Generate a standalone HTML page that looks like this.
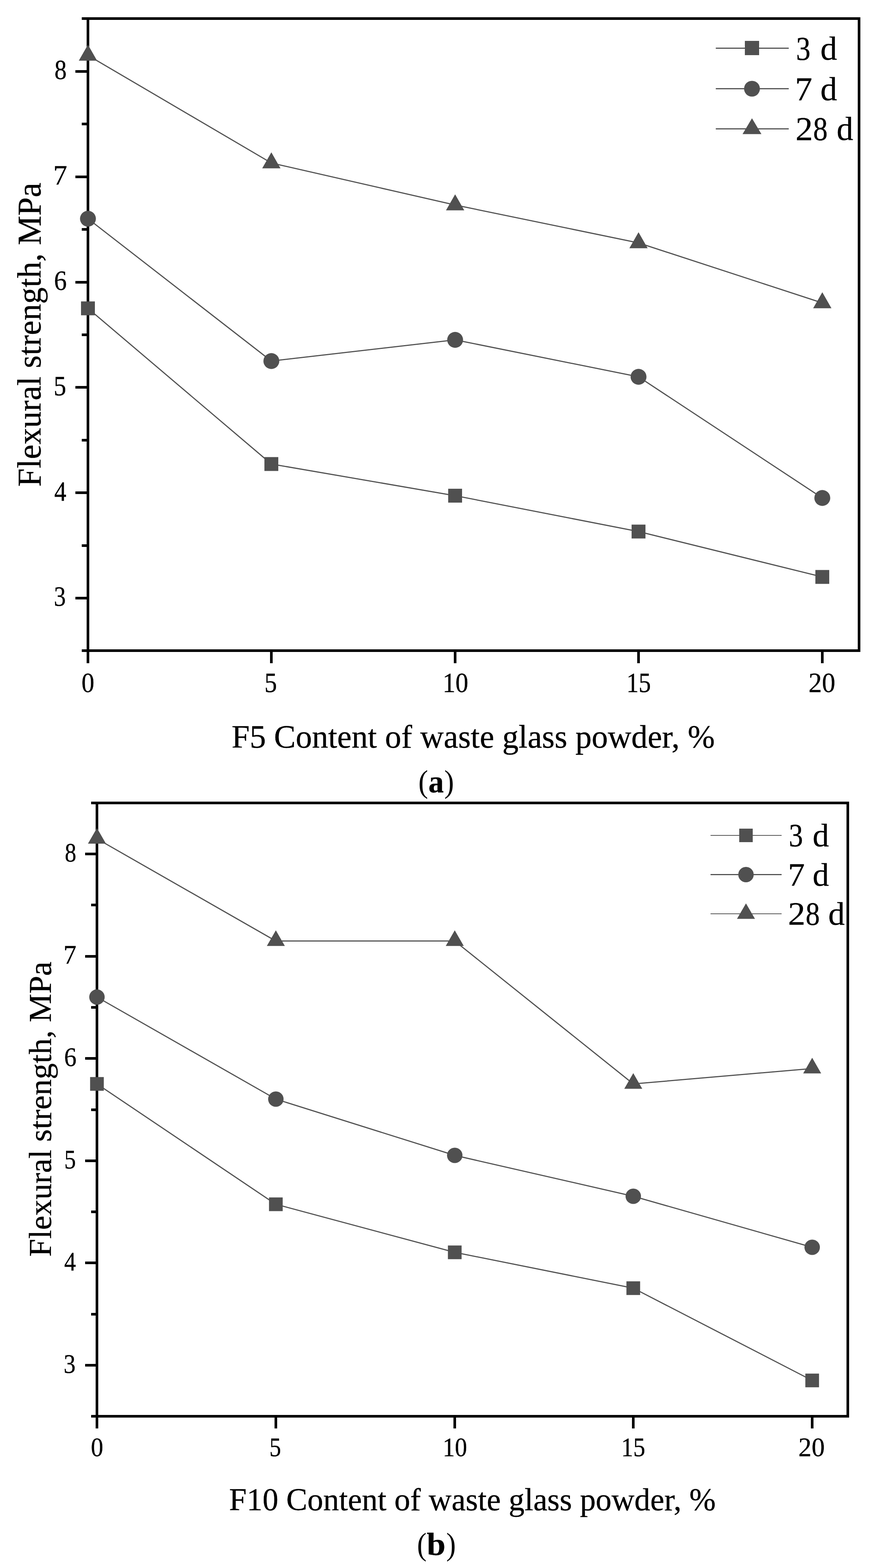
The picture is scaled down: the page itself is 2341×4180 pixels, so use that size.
<!DOCTYPE html>
<html><head><meta charset="utf-8"><title>Flexural strength vs waste glass powder content</title>
<style>html,body{margin:0;padding:0;background:#fff;}svg{display:block;}text{stroke:#000;stroke-width:0.45px;}.thin{stroke:none;}</style></head>
<body><svg width="2341" height="4180" viewBox="0 0 2341 4180" font-family="'Liberation Serif', 'Times New Roman', serif" fill="#000">
<rect width="2341" height="4180" fill="#fff"/>
<rect x="234.5" y="49.5" width="2056.0" height="1685.0" fill="none" stroke="#000" stroke-width="7" stroke-linejoin="miter"/>
<rect x="201" y="1591" width="30.00" height="7" fill="#000"/>
<rect x="201" y="1310" width="30.00" height="7" fill="#000"/>
<rect x="201" y="1029" width="30.00" height="7" fill="#000"/>
<rect x="201" y="749" width="30.00" height="7" fill="#000"/>
<rect x="201" y="468" width="30.00" height="7" fill="#000"/>
<rect x="201" y="187" width="30.00" height="7" fill="#000"/>
<rect x="218" y="1731.0" width="13.00" height="7" fill="#000"/>
<rect x="218" y="1451" width="13.00" height="7" fill="#000"/>
<rect x="218" y="1170" width="13.00" height="7" fill="#000"/>
<rect x="218" y="889" width="13.00" height="7" fill="#000"/>
<rect x="218" y="608" width="13.00" height="7" fill="#000"/>
<rect x="218" y="327" width="13.00" height="7" fill="#000"/>
<rect x="218" y="46.0" width="13.00" height="7" fill="#000"/>
<rect x="231.00" y="1738.00" width="7" height="30.00" fill="#000"/>
<rect x="720.00" y="1738.00" width="7" height="30.00" fill="#000"/>
<rect x="1210.00" y="1738.00" width="7" height="30.00" fill="#000"/>
<rect x="1699.00" y="1738.00" width="7" height="30.00" fill="#000"/>
<rect x="2189.00" y="1738.00" width="7" height="30.00" fill="#000"/>
<text transform="translate(143.87,1615.30) scale(0.8536,1)" font-size="74.3">3</text>
<text transform="translate(144.74,1334.50) scale(0.8657,1)" font-size="74.3">4</text>
<text transform="translate(143.11,1053.70) scale(0.9021,1)" font-size="74.3">5</text>
<text transform="translate(144.07,772.90) scale(0.9167,1)" font-size="74.3">6</text>
<text transform="translate(141.89,492.10) scale(1.0029,1)" font-size="74.3">7</text>
<text transform="translate(145.23,211.30) scale(0.8733,1)" font-size="74.3">8</text>
<text transform="translate(217.29,1845.30) scale(0.9241,1)" font-size="74.3">0</text>
<text transform="translate(705.11,1845.30) scale(0.9021,1)" font-size="74.3">5</text>
<text transform="translate(1179.96,1845.30) scale(0.9255,1)" font-size="74.3">10</text>
<text transform="translate(1670.15,1845.30) scale(0.8803,1)" font-size="74.3">15</text>
<text transform="translate(2155.66,1845.30) scale(0.9618,1)" font-size="74.3">20</text>
<polyline points="234.50,822.00 723.50,1237.00 1213.50,1321.40 1702.50,1417.00 2192.50,1538.00" fill="none" stroke="#505050" stroke-width="3" stroke-linejoin="round"/>
<polyline points="234.50,583.00 723.50,962.50 1213.50,906.00 1702.50,1004.50 2192.50,1327.50" fill="none" stroke="#505050" stroke-width="3" stroke-linejoin="round"/>
<polyline points="234.50,147.50 723.50,434.50 1213.50,546.50 1702.50,647.50 2192.50,807.50" fill="none" stroke="#505050" stroke-width="3" stroke-linejoin="round"/>
<rect x="216.00" y="803.50" width="37" height="37" fill="#505050"/>
<rect x="705.00" y="1218.50" width="37" height="37" fill="#505050"/>
<rect x="1195.00" y="1302.90" width="37" height="37" fill="#505050"/>
<rect x="1684.00" y="1398.50" width="37" height="37" fill="#505050"/>
<rect x="2174.00" y="1519.50" width="37" height="37" fill="#505050"/>
<circle cx="234.50" cy="583.00" r="21.2" fill="#505050"/>
<circle cx="723.50" cy="962.50" r="21.2" fill="#505050"/>
<circle cx="1213.50" cy="906.00" r="21.2" fill="#505050"/>
<circle cx="1702.50" cy="1004.50" r="21.2" fill="#505050"/>
<circle cx="2192.50" cy="1327.50" r="21.2" fill="#505050"/>
<polygon points="234.50,119.10 258.90,161.70 210.10,161.70" fill="#505050"/>
<polygon points="723.50,406.10 747.90,448.70 699.10,448.70" fill="#505050"/>
<polygon points="1213.50,518.10 1237.90,560.70 1189.10,560.70" fill="#505050"/>
<polygon points="1702.50,619.10 1726.90,661.70 1678.10,661.70" fill="#505050"/>
<polygon points="2192.50,779.10 2216.90,821.70 2168.10,821.70" fill="#505050"/>
<line x1="1908.5" y1="128.5" x2="2103" y2="128.5" stroke="#505050" stroke-width="3"/>
<rect x="1986.00" y="109.00" width="38" height="38" fill="#505050"/>
<text y="158.60" font-size="89"><tspan x="2122.42" textLength="38.49" lengthAdjust="spacingAndGlyphs">3</tspan> <tspan x="2187.58" textLength="44.50" lengthAdjust="spacingAndGlyphs">d</tspan></text>
<line x1="1908.5" y1="236.5" x2="2103" y2="236.5" stroke="#505050" stroke-width="3"/>
<circle cx="2005.00" cy="236.50" r="21.1" fill="#505050"/>
<text y="266.80" font-size="89"><tspan x="2119.73" textLength="46.02" lengthAdjust="spacingAndGlyphs">7</tspan> <tspan x="2187.58" textLength="44.50" lengthAdjust="spacingAndGlyphs">d</tspan></text>
<line x1="1908.5" y1="343.5" x2="2103" y2="343.5" stroke="#505050" stroke-width="3"/>
<polygon points="2005.00,315.30 2030.20,357.50 1979.80,357.50" fill="#505050"/>
<text y="373.20" font-size="89"><tspan x="2120.93" textLength="46.27" lengthAdjust="spacingAndGlyphs">2</tspan><tspan x="2168.04" textLength="38.81" lengthAdjust="spacingAndGlyphs">8</tspan> <tspan x="2230.80" textLength="44.28" lengthAdjust="spacingAndGlyphs">d</tspan></text>
<text x="617.48" y="1993" font-size="87.5" textLength="1288.51" lengthAdjust="spacingAndGlyphs">F5 Content of waste glass powder, %</text>
<text transform="translate(108,1297.54) rotate(-90)" font-size="88" textLength="810.74" lengthAdjust="spacingAndGlyphs">Flexural strength, MPa</text>
<text y="2111.50" font-size="84"><tspan x="1115.38" textLength="25.93" lengthAdjust="spacingAndGlyphs" class="thin">(</tspan><tspan x="1142.26" textLength="40.98" lengthAdjust="spacingAndGlyphs" font-weight="bold">a</tspan><tspan x="1184.49" textLength="25.93" lengthAdjust="spacingAndGlyphs" class="thin">)</tspan></text>
<rect x="258.5" y="2140.5" width="2002.0" height="1635.0" fill="none" stroke="#000" stroke-width="7" stroke-linejoin="miter"/>
<rect x="227" y="3636" width="28.00" height="7" fill="#000"/>
<rect x="227" y="3363" width="28.00" height="7" fill="#000"/>
<rect x="227" y="3091" width="28.00" height="7" fill="#000"/>
<rect x="227" y="2818" width="28.00" height="7" fill="#000"/>
<rect x="227" y="2546" width="28.00" height="7" fill="#000"/>
<rect x="227" y="2273" width="28.00" height="7" fill="#000"/>
<rect x="243" y="3772.0" width="12.00" height="7" fill="#000"/>
<rect x="243" y="3500" width="12.00" height="7" fill="#000"/>
<rect x="243" y="3227" width="12.00" height="7" fill="#000"/>
<rect x="243" y="2955" width="12.00" height="7" fill="#000"/>
<rect x="243" y="2682" width="12.00" height="7" fill="#000"/>
<rect x="243" y="2409" width="12.00" height="7" fill="#000"/>
<rect x="243" y="2137.0" width="12.00" height="7" fill="#000"/>
<rect x="255.00" y="3779.00" width="7" height="29.00" fill="#000"/>
<rect x="732.00" y="3779.00" width="7" height="29.00" fill="#000"/>
<rect x="1209.00" y="3779.00" width="7" height="29.00" fill="#000"/>
<rect x="1685.00" y="3779.00" width="7" height="29.00" fill="#000"/>
<rect x="2162.00" y="3779.00" width="7" height="29.00" fill="#000"/>
<text transform="translate(169.87,3659.70) scale(0.8933,1)" font-size="71">3</text>
<text transform="translate(171.28,3387.10) scale(0.8787,1)" font-size="71">4</text>
<text transform="translate(171.28,3114.50) scale(0.8776,1)" font-size="71">5</text>
<text transform="translate(171.06,2841.90) scale(0.9296,1)" font-size="71">6</text>
<text transform="translate(169.35,2569.30) scale(0.9731,1)" font-size="71">7</text>
<text transform="translate(172.66,2296.70) scale(0.8640,1)" font-size="71">8</text>
<text transform="translate(242.37,3882.00) scale(0.9338,1)" font-size="71">0</text>
<text transform="translate(718.28,3882.00) scale(0.8776,1)" font-size="71">5</text>
<text transform="translate(1180.16,3882.00) scale(0.9201,1)" font-size="71">10</text>
<text transform="translate(1656.14,3882.00) scale(0.9067,1)" font-size="71">15</text>
<text transform="translate(2128.82,3882.00) scale(0.9881,1)" font-size="71">20</text>
<polyline points="258.50,2889.50 735.50,3210.40 1212.50,3338.50 1688.50,3434.00 2165.50,3680.00" fill="none" stroke="#505050" stroke-width="3" stroke-linejoin="round"/>
<polyline points="258.50,2658.00 735.50,2930.00 1212.50,3080.00 1688.50,3189.00 2165.50,3325.00" fill="none" stroke="#505050" stroke-width="3" stroke-linejoin="round"/>
<polyline points="258.50,2236.00 735.50,2508.60 1212.50,2508.60 1688.50,2889.50 2165.50,2848.50" fill="none" stroke="#505050" stroke-width="3" stroke-linejoin="round"/>
<rect x="240.25" y="2871.25" width="36.5" height="36.5" fill="#505050"/>
<rect x="717.25" y="3192.15" width="36.5" height="36.5" fill="#505050"/>
<rect x="1194.25" y="3320.25" width="36.5" height="36.5" fill="#505050"/>
<rect x="1670.25" y="3415.75" width="36.5" height="36.5" fill="#505050"/>
<rect x="2147.25" y="3661.75" width="36.5" height="36.5" fill="#505050"/>
<circle cx="258.50" cy="2658.00" r="20.6" fill="#505050"/>
<circle cx="735.50" cy="2930.00" r="20.6" fill="#505050"/>
<circle cx="1212.50" cy="3080.00" r="20.6" fill="#505050"/>
<circle cx="1688.50" cy="3189.00" r="20.6" fill="#505050"/>
<circle cx="2165.50" cy="3325.00" r="20.6" fill="#505050"/>
<polygon points="258.50,2207.30 282.50,2249.10 234.50,2249.10" fill="#505050"/>
<polygon points="735.50,2479.90 759.50,2521.70 711.50,2521.70" fill="#505050"/>
<polygon points="1212.50,2479.90 1236.50,2521.70 1188.50,2521.70" fill="#505050"/>
<polygon points="1688.50,2860.80 1712.50,2902.60 1664.50,2902.60" fill="#505050"/>
<polygon points="2165.50,2819.80 2189.50,2861.60 2141.50,2861.60" fill="#505050"/>
<line x1="1894.5" y1="2227" x2="2084" y2="2227" stroke="#505050" stroke-width="2"/>
<rect x="1971.00" y="2209.00" width="36" height="36" fill="#505050"/>
<text y="2256.20" font-size="86"><tspan x="2103.19" textLength="37.76" lengthAdjust="spacingAndGlyphs">3</tspan> <tspan x="2166.66" textLength="43.40" lengthAdjust="spacingAndGlyphs">d</tspan></text>
<line x1="1894.5" y1="2331.5" x2="2084" y2="2331.5" stroke="#505050" stroke-width="3"/>
<circle cx="1989.00" cy="2331.50" r="20.6" fill="#505050"/>
<text y="2360.70" font-size="86"><tspan x="2100.90" textLength="44.78" lengthAdjust="spacingAndGlyphs">7</tspan> <tspan x="2166.66" textLength="43.40" lengthAdjust="spacingAndGlyphs">d</tspan></text>
<line x1="1894.5" y1="2436" x2="2084" y2="2436" stroke="#505050" stroke-width="2"/>
<polygon points="1989.00,2408.30 2013.00,2449.60 1965.00,2449.60" fill="#505050"/>
<text y="2465.00" font-size="86"><tspan x="2100.93" textLength="46.27" lengthAdjust="spacingAndGlyphs">2</tspan><tspan x="2148.12" textLength="37.87" lengthAdjust="spacingAndGlyphs">8</tspan> <tspan x="2208.44" textLength="43.73" lengthAdjust="spacingAndGlyphs">d</tspan></text>
<text x="610.85" y="4026" font-size="85" textLength="1297.55" lengthAdjust="spacingAndGlyphs">F10 Content of waste glass powder, %</text>
<text transform="translate(135.7,3350.16) rotate(-90)" font-size="85.5" textLength="786.63" lengthAdjust="spacingAndGlyphs">Flexural strength, MPa</text>
<text y="4145.00" font-size="84"><tspan x="1111.95" textLength="25.41" lengthAdjust="spacingAndGlyphs" class="thin">(</tspan><tspan x="1137.65" textLength="50.20" lengthAdjust="spacingAndGlyphs" font-weight="bold">b</tspan><tspan x="1189.72" textLength="25.67" lengthAdjust="spacingAndGlyphs" class="thin">)</tspan></text>
</svg></body></html>
